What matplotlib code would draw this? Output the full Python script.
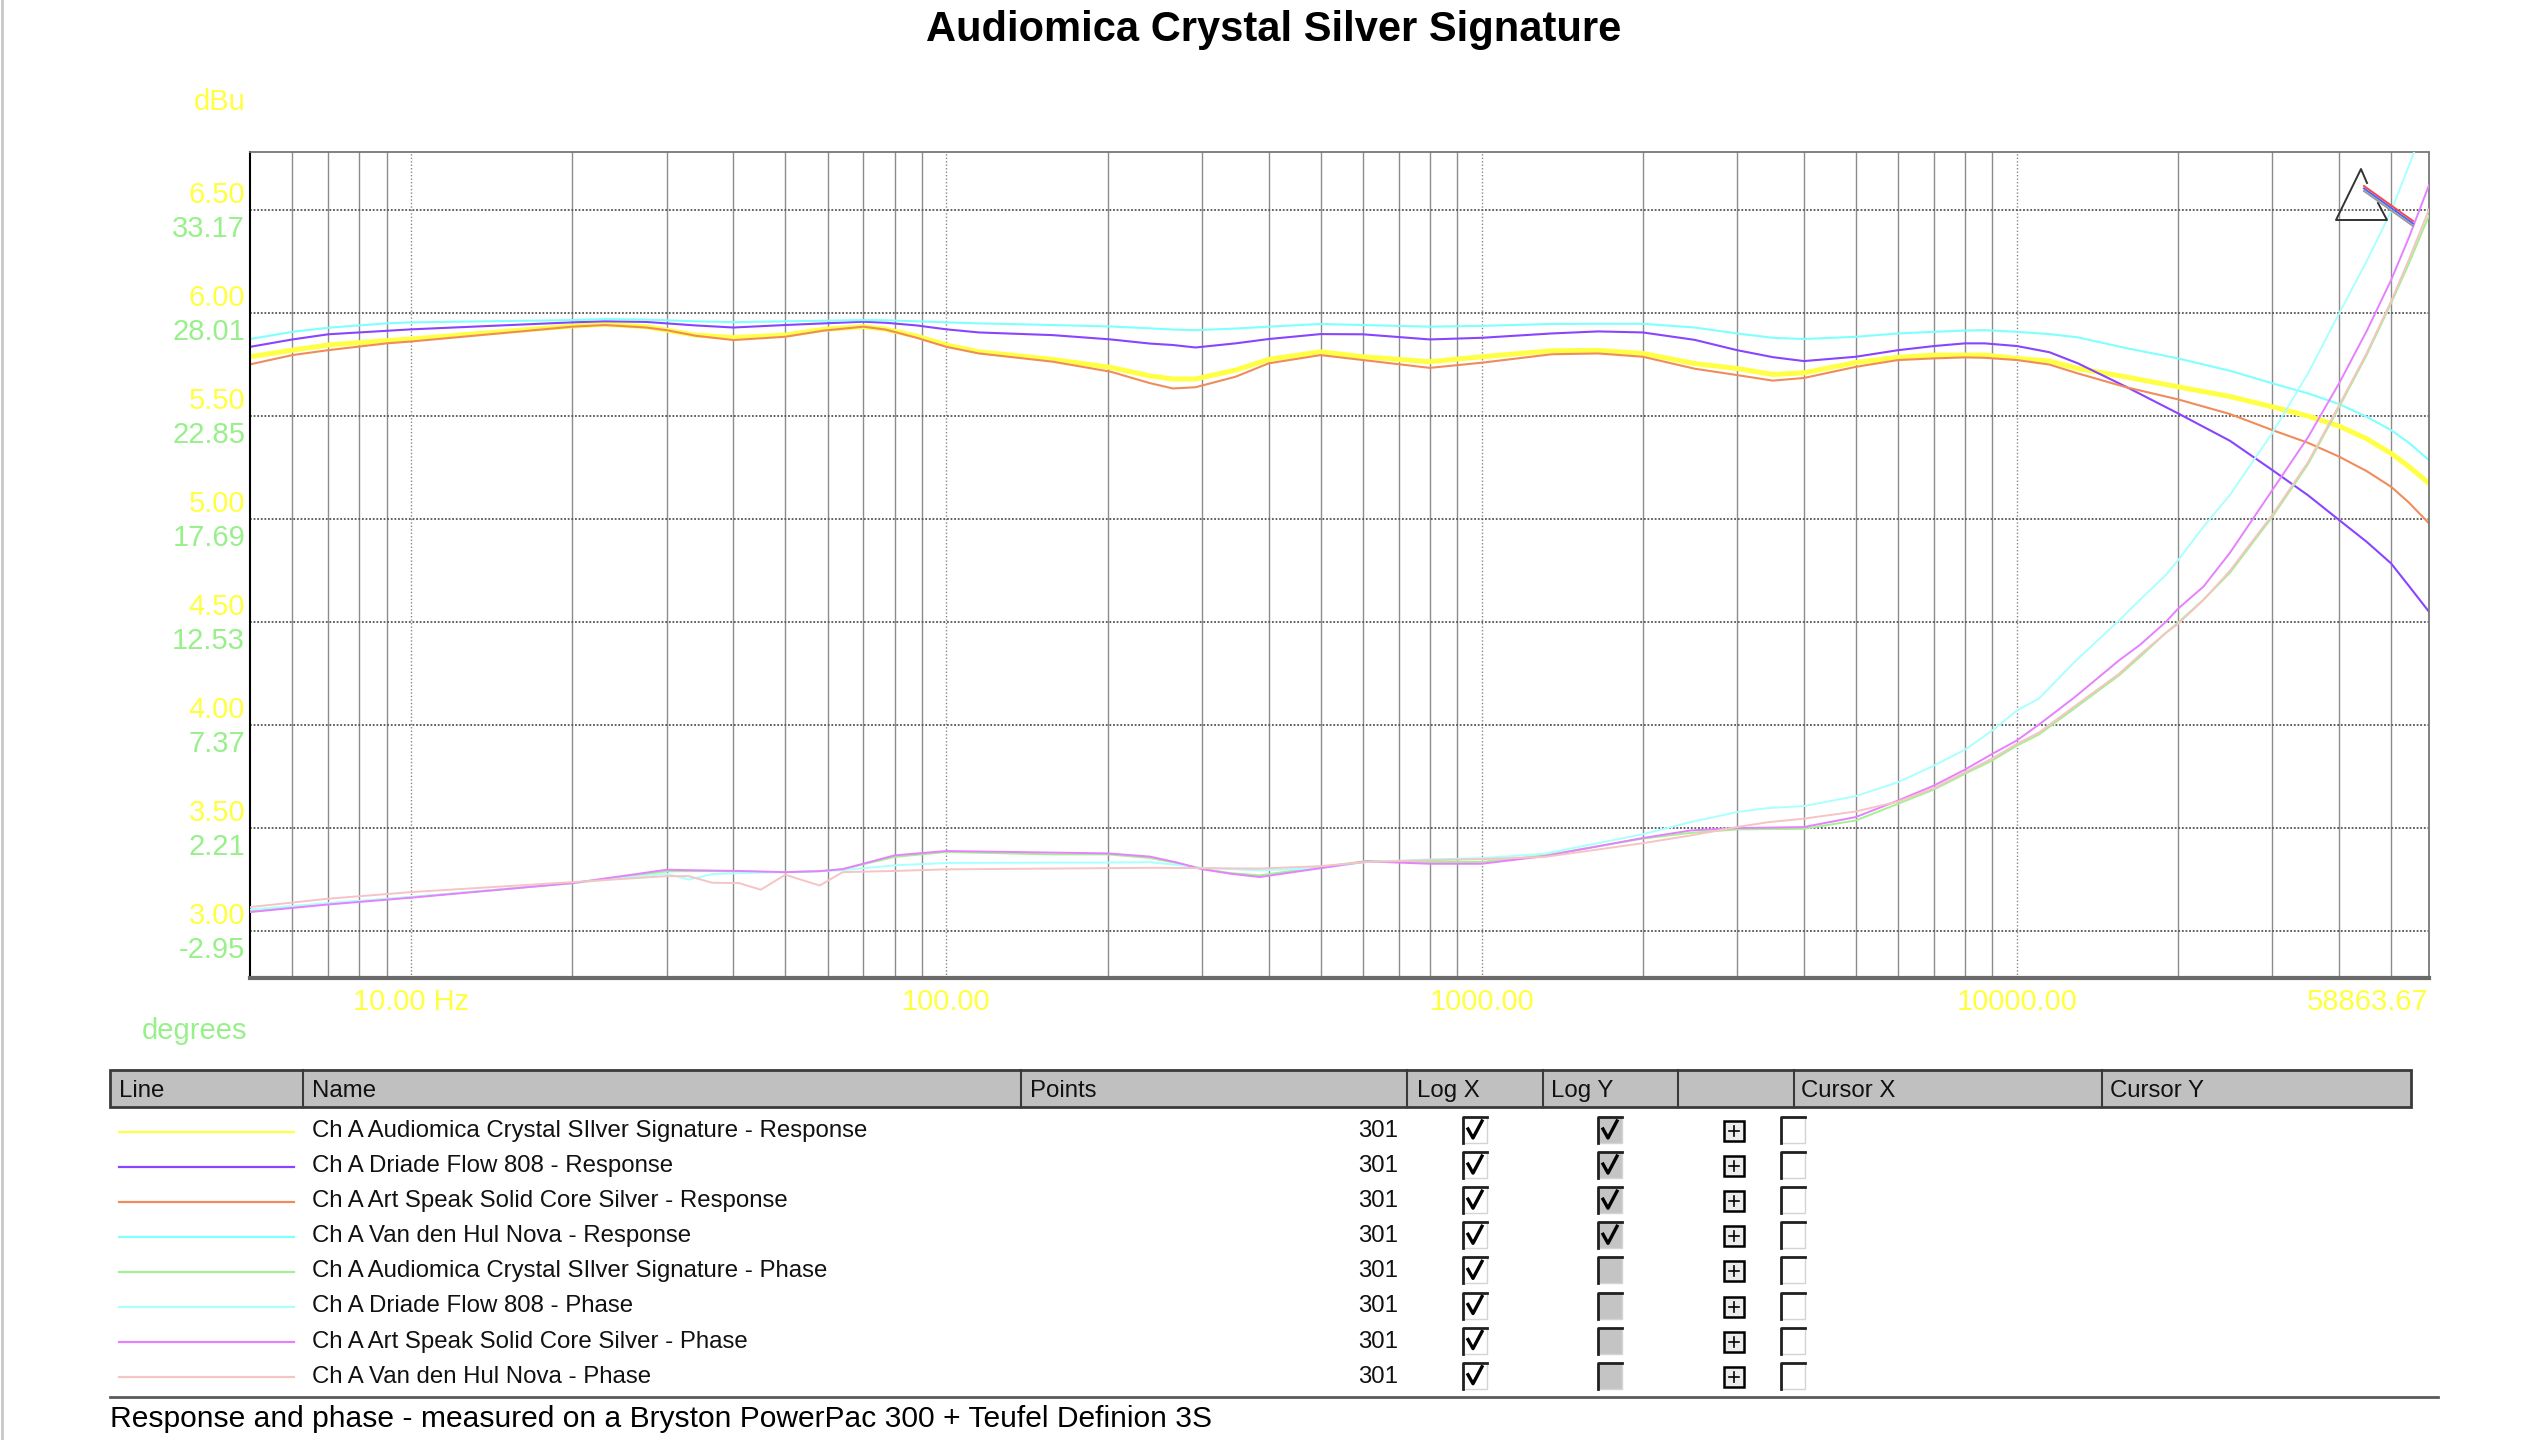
import matplotlib
matplotlib.use("Agg")
import matplotlib.pyplot as plt
import matplotlib.transforms as mtransforms
from matplotlib.patches import Rectangle
from matplotlib.lines import Line2D

plt.rcParams['font.family'] = ['Liberation Sans', 'DejaVu Sans']

# ---- data ----
resp_freq = [5, 6, 7, 9, 10, 20, 23, 27.5, 30, 34, 40, 50, 59, 70, 77, 88, 100, 115, 158, 203,
             240, 265, 292, 347, 400, 500, 600, 800, 1000, 1350, 1650, 2000, 2500, 3000, 3500,
             4000, 5000, 6000, 7000, 8000, 8700, 10000, 11500, 13000, 16000, 20000, 25000,
             30000, 35000, 40000, 45000, 50000, 54000, 58863.67]

audiomica_resp = [5.788, 5.82, 5.845, 5.866, 5.874, 5.937, 5.945, 5.934, 5.917, 5.893, 5.881,
                  5.893, 5.921, 5.934, 5.922, 5.888, 5.845, 5.812, 5.775, 5.736, 5.695, 5.68,
                  5.68, 5.723, 5.775, 5.812, 5.788, 5.764, 5.788, 5.817, 5.819, 5.804, 5.755,
                  5.731, 5.702, 5.71, 5.76, 5.785, 5.796, 5.796, 5.796, 5.78, 5.767, 5.731,
                  5.69, 5.642, 5.595, 5.545, 5.5, 5.451, 5.39, 5.319, 5.255, 5.173]

driade_resp = [5.836, 5.872, 5.897, 5.914, 5.921, 5.955, 5.96, 5.957, 5.95, 5.94, 5.93, 5.942,
               5.95, 5.958, 5.953, 5.94, 5.921, 5.906, 5.893, 5.872, 5.852, 5.845, 5.833, 5.853,
               5.874, 5.898, 5.897, 5.872, 5.88, 5.901, 5.911, 5.906, 5.87, 5.82, 5.786, 5.767,
               5.788, 5.82, 5.84, 5.853, 5.853, 5.84, 5.81, 5.756, 5.642, 5.513, 5.38, 5.238,
               5.115, 4.995, 4.89, 4.785, 4.675, 4.55]

artspeak_resp = [5.751, 5.796, 5.82, 5.853, 5.862, 5.934, 5.942, 5.93, 5.917, 5.89, 5.869,
                 5.885, 5.915, 5.934, 5.92, 5.88, 5.836, 5.804, 5.764, 5.715, 5.66, 5.634,
                 5.64, 5.691, 5.756, 5.796, 5.772, 5.734, 5.759, 5.8, 5.804, 5.788, 5.73,
                 5.699, 5.672, 5.685, 5.739, 5.772, 5.78, 5.785, 5.783, 5.772, 5.75, 5.707,
                 5.64, 5.581, 5.51, 5.432, 5.37, 5.303, 5.233, 5.157, 5.08, 4.979]

vdh_resp = [5.874, 5.909, 5.929, 5.95, 5.955, 5.966, 5.971, 5.968, 5.965, 5.96, 5.956, 5.96,
            5.963, 5.966, 5.965, 5.96, 5.955, 5.95, 5.942, 5.935, 5.926, 5.92, 5.917, 5.925,
            5.934, 5.947, 5.942, 5.934, 5.938, 5.947, 5.948, 5.948, 5.93, 5.901, 5.88, 5.874,
            5.885, 5.901, 5.909, 5.915, 5.917, 5.909, 5.898, 5.882, 5.83, 5.78, 5.72, 5.659,
            5.61, 5.558, 5.497, 5.432, 5.37, 5.286]

phase_freq = [5, 7, 10, 20, 30, 33, 36.5, 41, 45, 50, 58, 64, 80, 100, 158, 200, 240, 270, 300,
              340, 385, 500, 610, 800, 1000, 1310, 2000, 2460, 3000, 3420, 4000, 5000, 6000,
              7000, 8000, 9000, 10000, 11000, 12800, 15500, 17000, 19000, 20000, 22300, 25000,
              30000, 35000, 40000, 45000, 50000, 54000, 58863.67]

audiomica_phase = [-1.97, -1.58, -1.25, -0.55, 0.04, 0.05, 0.05, 0.04, 0.02, 0.0, 0.05, 0.15,
                   0.76, 1.01, 0.89, 0.89, 0.71, 0.45, 0.17, -0.05, -0.16, 0.26, 0.56, 0.51,
                   0.51, 0.84, 1.68, 1.97, 2.14, 2.16, 2.17, 2.59, 3.43, 4.14, 4.93, 5.6, 6.34,
                   6.9, 8.2, 9.85, 10.8, 12.0, 12.5, 13.65, 15.0, 17.8, 20.45, 23.3, 25.9,
                   28.5, 30.5, 32.9]

driade_phase = [-1.87, -1.55, -1.25, -0.55, -0.08, -0.37, -0.1, -0.05, -0.02, 0.0, 0.05, 0.1,
                0.34, 0.46, 0.48, 0.48, 0.5, 0.36, 0.22, 0.15, 0.09, 0.2, 0.51, 0.64, 0.7,
                0.92, 1.9, 2.51, 3.01, 3.21, 3.31, 3.81, 4.51, 5.34, 6.14, 7.1, 8.1, 8.7,
                10.52, 12.6, 13.66, 14.9, 15.63, 17.3, 18.9, 22.0, 25.0, 28.0, 30.6, 33.1,
                35.4, 38.0]

artspeak_phase = [-2.0, -1.62, -1.28, -0.55, 0.12, 0.1, 0.08, 0.06, 0.03, 0.0, 0.05, 0.15,
                  0.84, 1.06, 0.98, 0.94, 0.78, 0.48, 0.15, -0.08, -0.245, 0.2, 0.54, 0.42,
                  0.42, 0.8, 1.71, 2.09, 2.21, 2.23, 2.26, 2.76, 3.59, 4.34, 5.14, 5.93, 6.6,
                  7.4, 8.75, 10.6, 11.4, 12.55, 13.2, 14.3, 16.0, 19.14, 21.8, 24.5, 27.1,
                  29.66, 31.8, 34.42]

vdh_phase = [-1.75, -1.33, -1.0, -0.5, -0.2, -0.2, -0.53, -0.55, -0.88, -0.13, -0.67, 0.0,
             0.06, 0.14, 0.18, 0.2, 0.22, 0.21, 0.2, 0.19, 0.18, 0.3, 0.51, 0.6, 0.65, 0.76,
             1.45, 1.84, 2.26, 2.5, 2.68, 3.04, 3.54, 4.21, 5.01, 5.7, 6.43, 7.0, 8.3, 9.93,
             10.9, 12.0, 12.44, 13.63, 15.1, 17.9, 20.55, 23.4, 26.0, 28.6, 30.7, 33.2]

dbu_ticks = [3.0, 3.5, 4.0, 4.5, 5.0, 5.5, 6.0, 6.5]
dbu_labels = ["3.00", "3.50", "4.00", "4.50", "5.00", "5.50", "6.00", "6.50"]
phase_ticks = [-2.95, 2.21, 7.37, 12.53, 17.69, 22.85, 28.01, 33.17]
phase_labels = ["-2.95", "2.21", "7.37", "12.53", "17.69", "22.85", "28.01", "33.17"]
x_ticks = [10, 100, 1000, 10000, 58863.67]
x_labels = ["10.00 Hz", "100.00", "1000.00", "10000.00", "58863.67"]

legend_names = ["Ch A Audiomica Crystal SIlver Signature - Response",
                "Ch A Driade Flow 808 - Response",
                "Ch A Art Speak Solid Core Silver - Response",
                "Ch A Van den Hul Nova - Response",
                "Ch A Audiomica Crystal SIlver Signature - Phase",
                "Ch A Driade Flow 808 - Phase",
                "Ch A Art Speak Solid Core Silver - Phase",
                "Ch A Van den Hul Nova - Phase"]
legend_points = [301, 301, 301, 301, 301, 301, 301, 301]
legend_logy = [True, True, True, True, False, False, False, False]

resp_series = [audiomica_resp, driade_resp, artspeak_resp, vdh_resp]
phase_series = [audiomica_phase, driade_phase, artspeak_phase, vdh_phase]
colors = ['#ffff44', '#8844ff', '#f08c5c', '#80ffff', '#a4f092', '#aaffff', '#e680ff', '#f6c4c4']
widths = [3.6, 1.5, 1.5, 1.5, 1.4, 1.4, 1.4, 1.4]

YELLOW = '#ffff40'
GREEN = '#98f08a'

W, H = 2544, 1440


def fx(x):
    return x / W


def fy(y):
    return 1 - y / H


fig = plt.figure(figsize=(25.44, 14.4), dpi=100)


def off(dx, dy):
    return mtransforms.ScaledTranslation(dx / 100, dy / 100, fig.dpi_scale_trans)


def line_px(xs, ys, **kw):
    fig.add_artist(Line2D([fx(x) for x in xs], [fy(y) for y in ys],
                          transform=fig.transFigure, **kw))


def rect_px(x0, y0, x1, y1, **kw):
    fig.add_artist(Rectangle((fx(x0), fy(y1)), (x1 - x0) / W, (y1 - y0) / H,
                             transform=fig.transFigure, **kw))


ax = fig.add_axes([fx(250), fy(978), fx(2429) - fx(250), fy(152) - fy(978)])
ax2 = ax.twinx()

ax.set_xscale('log')
ax.set_xlim(5, 58863.67)
ax.set_ylim(2.772, 6.782)
ax2.set_ylim(-5.303, 36.08)

for vals, c, lw in zip(resp_series, colors[:4], widths[:4]):
    ax.plot(resp_freq, vals, color=c, lw=lw, solid_joinstyle='round')
for vals, c, lw in zip(phase_series, colors[4:], widths[4:]):
    ax2.plot(phase_freq, vals, color=c, lw=lw, solid_joinstyle='round')

minors = [m * d for d in (1, 10, 100, 1000, 10000) for m in range(2, 10)
          if 5 < m * d < 58863 and m * d not in (10, 100, 1000, 10000)]
ax.set_xticks([10, 100, 1000, 10000])
ax.set_xticks(minors, minor=True)
ax.set_yticks(dbu_ticks)
ax2.set_yticks(phase_ticks)
ax.tick_params(which='both', length=0, labelbottom=False, labelleft=False)
ax2.tick_params(which='both', length=0, labelright=False)
ax.grid(which='major', axis='x', color='#888888', lw=1.0, ls=(0, (1, 1.5)))
ax.grid(which='minor', axis='x', color='#8c8c8c', lw=1.0, ls='-')
ax.grid(which='major', axis='y', color='#555555', lw=1.3, ls=(0, (1, 1)))

for s in ax2.spines.values():
    s.set_visible(False)
ax.spines['left'].set_color('black')
ax.spines['left'].set_linewidth(1.5)
ax.spines['bottom'].set_color('#6a6a6a')
ax.spines['bottom'].set_linewidth(3)
for side in ('top', 'right'):
    ax.spines[side].set_color('#777777')
    ax.spines[side].set_linewidth(1.3)
    ax.spines[side].set_linestyle((0, (1, 1)))

# axis labels (two scales sharing the left side)
ytr = mtransforms.blended_transform_factory(ax.transAxes, ax.transData)
for v, s in zip(dbu_ticks, dbu_labels):
    ax.text(0, v, s, transform=ytr + off(-5, 7), ha='right', va='baseline',
            color=YELLOW, fontsize=21, clip_on=False)
ptr = mtransforms.blended_transform_factory(ax2.transAxes, ax2.transData)
for v, s in zip(phase_ticks, phase_labels):
    ax2.text(0, v, s, transform=ptr + off(-5, -27), ha='right', va='baseline',
             color=GREEN, fontsize=21, clip_on=False)
xtr = mtransforms.blended_transform_factory(ax.transData, ax.transAxes)
for i, (v, s) in enumerate(zip(x_ticks, x_labels)):
    ax.text(v, 0, s, transform=xtr + off(0, -32), ha='right' if i == len(x_ticks) - 1 else 'center',
            va='baseline', color=YELLOW, fontsize=21, clip_on=False)

fig.text(fx(245), fy(110), 'dBu', ha='right', va='baseline', color=YELLOW, fontsize=21)
fig.text(fx(247), fy(1039), 'degrees', ha='right', va='baseline', color=GREEN, fontsize=21)
fig.text(fx(1274), fy(41), 'Audiomica Crystal Silver Signature', ha='center', va='baseline',
         fontsize=30, fontweight='bold', color='black')

# little cursor icon in the corner
line_px([2367, 2361, 2336, 2387, 2378], [183, 169, 220, 220, 203], color='#333333', lw=1.4)
for dy, c in zip((0, 2.5, 5), ('#ff4444', '#4466ff', '#9a9a9a')):
    line_px([2364, 2413], [186 + dy, 221 + dy], color=c, lw=1.4)

# page border
line_px([1.5, 1.5], [0, 1440], color='#c8c8c8', lw=2)

# ---- legend table ----
TS = 17.3
rect_px(110, 1070, 2411, 1107, facecolor='#c0c0c0', edgecolor='#3a3a3a', lw=2)
for x in (303, 1021, 1407, 1543, 1678, 1793.5, 2102):
    line_px([x, x], [1070, 1107], color='#3a3a3a', lw=1.5)
for x, s in zip((119, 312, 1030, 1417, 1551, 1801, 2110),
                ('Line', 'Name', 'Points', 'Log X', 'Log Y', 'Cursor X', 'Cursor Y')):
    fig.text(fx(x), fy(1097), s, ha='left', va='baseline', fontsize=TS, color='#111111')


def checkbox(cx, cy, fill, checked):
    rect_px(cx - 12, cy - 13, cx + 12, cy + 13, facecolor=fill, edgecolor='#d4d4d4', lw=1)
    line_px([cx - 12, cx - 12, cx + 12], [cy + 13, cy - 13, cy - 13], color='#202020', lw=2)
    if checked:
        line_px([cx - 7, cx - 2, cx + 7], [cy - 1, cy + 8, cy - 9], color='black', lw=2.4)


for i, (name, pts, logy) in enumerate(zip(legend_names, legend_points, legend_logy)):
    base = 1137 + 35.1 * i
    cy = 1130 + 35.1 * i
    line_px([119, 294], [base - 5.5, base - 5.5], color=colors[i], lw=1.6)
    fig.text(fx(312), fy(base), name, ha='left', va='baseline', fontsize=TS, color='#111111')
    fig.text(fx(1398), fy(base), str(pts), ha='right', va='baseline', fontsize=TS,
             color='#111111')
    checkbox(1475, cy, 'white', True)
    checkbox(1610, cy, '#c4c4c4', logy)
    rect_px(1724, cy - 9, 1744, cy + 11, facecolor='#ececec', edgecolor='black', lw=1.8)
    line_px([1729, 1739], [cy + 1, cy + 1], color='black', lw=1.2)
    line_px([1734, 1734], [cy - 4, cy + 6], color='black', lw=1.2)
    checkbox(1793, cy, 'white', False)

line_px([110, 2438], [1396.5, 1396.5], color='#5a5a5a', lw=2)
fig.text(fx(110), fy(1427), 'Response and phase - measured on a Bryston PowerPac 300 + Teufel Definion 3S',
         ha='left', va='baseline', fontsize=21.6, color='black')

fig.savefig('out.png', dpi=100, facecolor='white')
